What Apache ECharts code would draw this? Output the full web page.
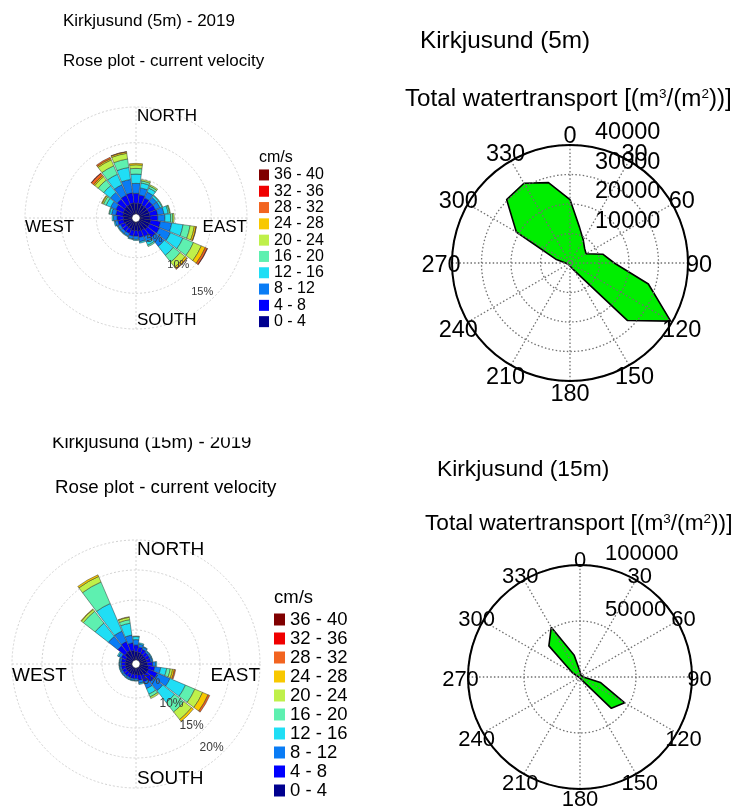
<!DOCTYPE html>
<html><head><meta charset="utf-8">
<script src="https://cdn.jsdelivr.net/npm/echarts@6/dist/echarts.min.js"></script>
<style>html,body{margin:0;padding:0;background:#fff}#c{width:739px;height:811px}</style>
</head><body><div id="c"></div><script>
const FONT = "'Liberation Sans', Arial, Helvetica, sans-serif";

// ---------- DATA ----------
const directions = ['0','15','30','45','60','75','90','105','120','135','150','165','180','195','210','225','240','255','270','285','300','315','330','345'];
const speedClasses = ['0 - 4','4 - 8','8 - 12','12 - 16','16 - 20','20 - 24','24 - 28','28 - 32','32 - 36','36 - 40'];
const classColors = ['#00008f','#0000ff','#0a7cf5','#20def5','#5ef0b0','#bff04a','#f8c800','#f26420','#f00000','#800000'];

// 5 m rose: percentage per direction bin (0,15,...,345 deg), one array per speed class
const rose5_c0 = [1.5,1.5,1.4,1.4,1.4,1.4,1.4,1.5,1.5,1.5,1.3,1.3,1.2,1.2,1.1,1.1,1.1,1.2,1.2,1.3,1.4,1.5,1.5,1.55];
const rose5_c1 = [1.4,1.2,1.1,1.0,1.0,1.1,1.1,1.4,1.5,1.4,1.0,0.9,0.8,0.8,0.7,0.7,0.7,0.8,0.9,1.0,1.1,1.3,1.4,1.45];
const rose5_c2 = [1.4,1.0,0.9,0.7,0.7,0.9,1.0,1.6,1.7,1.6,0.8,0.6,0.45,0.4,0.4,0.4,0.4,0.4,0.5,0.6,0.8,1.2,1.6,1.9];
const rose5_c3 = [1.3,0.7,0.6,0.3,0.3,0.6,0.8,1.6,1.9,1.6,0.5,0.2,0.15,0.1,0.1,0.1,0.1,0.15,0.2,0.3,0.7,1.2,1.6,1.7];
const rose5_c4 = [0.8,0.3,0.3,0.1,0.1,0.2,0.3,1.0,1.6,1.2,0.2,0,0,0,0,0,0,0,0,0.1,0.4,1.0,1.3,1.2];
const rose5_c5 = [0.5,0.2,0.2,0,0,0.1,0.2,0.6,1.2,0.9,0,0,0,0,0,0,0,0,0,0,0.2,0.6,0.9,0.8];
const rose5_c6 = [0.2,0,0,0,0,0,0,0.25,0.6,0.3,0,0,0,0,0,0,0,0,0,0,0.1,0.2,0.2,0.2];
const rose5_c7 = [0,0,0,0,0,0,0,0.05,0.3,0.1,0,0,0,0,0,0,0,0,0,0,0,0.4,0.2,0.05];
const rose5_c8 = [0,0,0,0,0,0,0,0,0.05,0,0,0,0,0,0,0,0,0,0,0,0,0.05,0,0];
const rose5_c9 = [0,0,0,0,0,0,0,0,0,0,0,0,0,0,0,0,0,0,0,0,0,0,0,0];

// 15 m rose
const rose15_c0 = [1.4,1.3,1.2,1.1,1.1,1.1,1.2,1.4,1.6,1.6,1.4,1.2,1.1,1.1,1.1,1.1,1.1,1.1,1.1,1.1,1.2,1.7,1.8,1.6];
const rose15_c1 = [1.1,0.9,0.8,0.7,0.7,0.7,0.9,1.1,1.6,1.5,1.2,0.9,0.7,0.7,0.7,0.7,0.7,0.7,0.7,0.7,0.8,1.5,1.6,1.3];
const rose15_c2 = [0.9,0.5,0.4,0.3,0.3,0.3,0.5,1.0,2.3,1.9,1.2,0.5,0.3,0.3,0.3,0.3,0.3,0.3,0.3,0.3,0.5,2.0,1.9,1.3];
const rose15_c3 = [0.5,0.2,0.1,0.1,0.1,0.1,0.2,1.0,2.8,2.5,1.0,0.2,0.1,0.1,0.1,0.1,0.1,0.1,0.1,0.1,0.2,2.8,5.0,2.0];
const rose15_c4 = [0.1,0,0,0,0,0,0,0.6,1.7,2.0,0.5,0,0,0,0,0,0,0,0,0,0,2.5,3.9,0.6];
const rose15_c5 = [0,0,0,0,0,0,0,0.4,1.4,1.6,0.3,0,0,0,0,0,0,0,0,0,0,0.4,1.0,0.4];
const rose15_c6 = [0,0,0,0,0,0,0,0.3,1.0,0.4,0,0,0,0,0,0,0,0,0,0,0,0.1,0.3,0.1];
const rose15_c7 = [0,0,0,0,0,0,0,0.2,0.3,0,0,0,0,0,0,0,0,0,0,0,0,0,0,0];
const rose15_c8 = [0,0,0,0,0,0,0,0,0,0,0,0,0,0,0,0,0,0,0,0,0,0,0,0];
const rose15_c9 = [0,0,0,0,0,0,0,0,0,0,0,0,0,0,0,0,0,0,0,0,0,0,0,0];

const roseRingTicks5 = [5, 10, 15];
const roseRingTicks15 = [5, 10, 15, 20];
const compassLabels = ['NORTH', 'SOUTH', 'WEST', 'EAST'];
const angleTickLabels = [0,30,60,90,120,150,180,210,240,270,300,330];

// Total water transport (m3/m2) per direction, closing back to 0 deg
const transportAngles = [0,15,30,45,60,75,90,105,120,135,150,165,180,195,210,225,240,255,270,285,300,315,330,345,360];
const transport5  = [21500,12500,9000,7000,6300,11500,15000,27500,39400,27600,3000,1500,1000,800,700,700,800,1000,1500,5000,21000,30400,31200,28200,21500];
const transport15 = [5000,2000,1500,1000,1000,1500,3000,18800,46100,39600,3000,1500,1000,800,800,800,800,800,1000,2000,8000,39300,51300,20000,5000];

// ---------- LAYOUT ----------
const TL = {cx:136, cy:218, r0:4, R:111, max:15, lab:12, font:17};
const BL = {cx:136, cy:664, r0:4, R:124, max:20, lab:11, font:19};
const TR = {cx:570, cy:263, R:118, max:40000, step:10000, font:23.5, labR:129};
const BR = {cx:580, cy:677, R:112, max:100000, step:50000, font:22, labR:119.5};

const rose5 = [rose5_c0,rose5_c1,rose5_c2,rose5_c3,rose5_c4,rose5_c5,rose5_c6,rose5_c7,rose5_c8,rose5_c9];
const rose15 = [rose15_c0,rose15_c1,rose15_c2,rose15_c3,rose15_c4,rose15_c5,rose15_c6,rose15_c7,rose15_c8,rose15_c9];

const polar = [], angleAxis = [], radiusAxis = [], series = [];
const gridLine = {color:'#d2d2d2', width:1, type:[2,2]};

function addRose(g, data, ringTicks, stackName) {
  const base = polar.length;
  polar.push({center:[g.cx,g.cy], radius:[g.r0,g.R]});
  angleAxis.push({polarIndex:base, type:'value', min:0, max:360, interval:90, startAngle:90, clockwise:true,
    axisLine:{show:false}, axisTick:{show:false}, axisLabel:{show:false}, splitLine:{show:true, lineStyle:gridLine}});
  radiusAxis.push({polarIndex:base, type:'value', min:0, max:g.max, interval:5,
    axisLine:{show:false}, axisTick:{show:false}, axisLabel:{show:false}, splitLine:{show:true, lineStyle:gridLine}});
  const k = (g.R - g.r0) / g.max;
  polar.push({center:[g.cx,g.cy], radius:[0, g.R - g.lab]});
  angleAxis.push({polarIndex:base+1, type:'value', min:0, max:360, startAngle:-48, show:false});
  radiusAxis.push({polarIndex:base+1, type:'value', min:(g.lab - g.r0)/k, max:g.max, z:10,
    axisLine:{show:false}, axisTick:{show:false}, splitLine:{show:false},
    axisLabel:{customValues:ringTicks, formatter:'{value}%', margin:0, align:'center', verticalAlign:'middle',
      fontSize: g.max === 15 ? 11 : 12, color:'#3a3a3a', fontFamily:FONT}});
  polar.push({center:[g.cx,g.cy], radius:[g.r0,g.R]});
  angleAxis.push({polarIndex:base+2, type:'category', data:directions, startAngle:97.5, clockwise:true, show:false});
  radiusAxis.push({polarIndex:base+2, type:'value', min:0, max:g.max, show:false});
  data.forEach((arr, i) => {
    series.push({type:'bar', coordinateSystem:'polar', polarIndex:base+2, name:speedClasses[i], stack:stackName,
      data:arr.map(v => (v > 0 ? v : '-')), barCategoryGap:'8%', silent:true,
      itemStyle:{color:classColors[i], borderColor:'#262626', borderWidth:0.45}});
  });
}

function addTransport(g, values) {
  const idx = polar.length;
  const dotted = {color:'#707070', width:1.3, type:[1.5,2.2]};
  polar.push({center:[g.cx,g.cy], radius:g.R});
  angleAxis.push({polarIndex:idx, type:'value', min:0, max:360, interval:30, startAngle:90, clockwise:true, z:3,
    axisLine:{show:true, lineStyle:{color:'#000', width:2}}, axisTick:{show:false}, axisLabel:{show:false},
    splitLine:{show:true, lineStyle:dotted}});
  radiusAxis.push({polarIndex:idx, type:'value', min:0, max:g.max, interval:g.step, z:3,
    axisLine:{show:false}, axisTick:{show:false}, splitLine:{show:true, lineStyle:dotted},
    axisLabel:{showMinLabel:false, align:'left', verticalAlign:'bottom', margin:-25, fontSize:g.font, color:'#000', fontFamily:FONT,
      formatter:v => String(v)}});
  series.push({type:'line', coordinateSystem:'polar', polarIndex:idx, symbol:'none', silent:true, z:2,
    data: transportAngles.map((a, i) => [values[i], a]),
    lineStyle:{color:'#000', width:1.6}, areaStyle:{color:'#00ee00', opacity:1}});
  // angle tick labels, centred just outside the rim (placed through the polar scale)
  const labelRadius = g.max * g.labR / g.R;
  series.push({type:'scatter', coordinateSystem:'polar', polarIndex:idx, silent:true, clip:false, z:4,
    symbol:'circle', symbolSize:0.1, itemStyle:{color:'#ffffff', opacity:1},
    data: angleTickLabels.map(a => [labelRadius, a]),
    label:{show:true, position:'inside', offset:[0,3], formatter:p => String(p.value[1]),
      fontSize:g.font, color:'#000000', opacity:1, textBorderWidth:0, fontFamily:FONT}});
}

addRose(TL, rose5, roseRingTicks5, 'r5');
addRose(BL, rose15, roseRingTicks15, 'r15');
addTransport(TR, transport5);
addTransport(BR, transport15);

function txt(text, x, y, size, align, vAlign, extra) {
  return {type:'text', x:x, y:y, z:50, silent:true,
    style:Object.assign({text:text, fill:'#000', fontSize:size, fontFamily:FONT,
      align:align, textAlign:align, verticalAlign:vAlign, textVerticalAlign:vAlign}, extra || {})};
}
function compass(g, dNS, dEW) {
  return [
    txt(compassLabels[0], g.cx+1, g.cy-dNS, g.font, 'left', 'middle'),
    txt(compassLabels[1], g.cx+1, g.cy+dNS+0.5, g.font, 'left', 'middle'),
    txt(compassLabels[2], g.cx-g.R, g.cy+dEW, g.font, 'left', 'middle'),
    txt(compassLabels[3], g.cx+g.R, g.cy+dEW, g.font, 'right', 'middle')
  ];
}
const supRich = {sup:{fontSize:13.5, fontFamily:FONT, fill:'#000', verticalAlign:'top', lineHeight:14}};

const graphics = [
  txt('Kirkjusund (5m) - 2019', 63, 21, 17, 'left', 'middle'),
  txt('Rose plot - current velocity', 63, 61.5, 17, 'left', 'middle'),
  txt('Kirkjusund (15m) - 2019', 52, 443, 18.7, 'left', 'middle'),
  {type:'rect', z:60, silent:true, shape:{x:40, y:425, width:240, height:12.5}, style:{fill:'#fff'}},
  txt('Rose plot - current velocity', 55, 488, 18.7, 'left', 'middle'),
  txt('Kirkjusund (5m)', 420, 41, 24.3, 'left', 'middle'),
  txt('Total watertransport [(m{sup|3}/(m{sup|2}))]', 405, 99, 24.2, 'left', 'middle', {rich:supRich}),
  txt('Kirkjusund (15m)', 437, 470, 22.8, 'left', 'middle'),
  txt('Total watertransport [(m{sup|3}/(m{sup|2}))]', 425, 524, 22.7, 'left', 'middle', {rich:supRich}),
  ...compass(TL, 102, 9.5),
  ...compass(BL, 114, 12),
  txt('cm/s', 259, 158, 16, 'left', 'middle'),
  txt('cm/s', 274, 597.5, 18.5, 'left', 'middle')
];

const legendNames = speedClasses.slice().reverse();
const option = {
  animation:false,
  backgroundColor:'#fff',
  polar, angleAxis, radiusAxis, series,
  legend:[
    {data:legendNames, orient:'vertical', left:259, top:166.8, padding:0, itemGap:0, itemWidth:10, itemHeight:11,
     icon:'rect', selectedMode:false, itemStyle:{borderWidth:0},
     textStyle:{fontSize:16, lineHeight:16.3, color:'#000', fontFamily:FONT}},
    {data:legendNames, orient:'vertical', left:274, top:610, padding:0, itemGap:0, itemWidth:11, itemHeight:12,
     icon:'rect', selectedMode:false, itemStyle:{borderWidth:0},
     textStyle:{fontSize:18.5, lineHeight:17.9, color:'#000', fontFamily:FONT}}
  ],
  graphic:{elements:graphics}
};
const chart = echarts.init(document.getElementById('c'));
chart.setOption(option);
</script></body></html>
